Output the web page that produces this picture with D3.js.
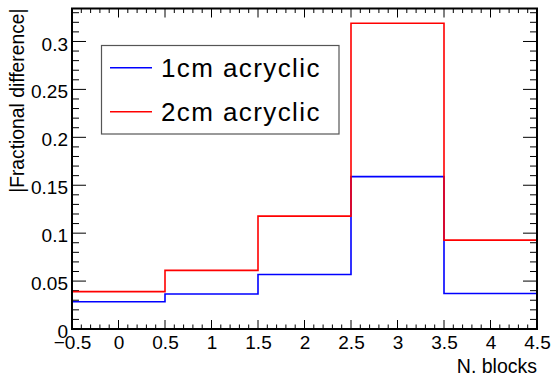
<!DOCTYPE html>
<html><head><meta charset="utf-8">
<script src="https://cdn.jsdelivr.net/npm/d3@7"></script>
<style>body{margin:0;background:#fff}svg{display:block;font-family:"Liberation Sans",Arial,sans-serif}</style>
</head><body><svg id="c" width="553" height="376"></svg>
<script>
const binEdges = [-0.5, 0.5, 1.5, 2.5, 3.5, 4.5];
const series1cm = [0.0285, 0.0365, 0.0568, 0.1590, 0.0370];
const series2cm = [0.0390, 0.0612, 0.1178, 0.3190, 0.0927];
const seriesNames = ["1cm acryclic", "2cm acryclic"];
const seriesColors = ["#0000ff", "#ff0000"];
const xTickLabels = [-0.5, 0, 0.5, 1, 1.5, 2, 2.5, 3, 3.5, 4, 4.5];
const yTickLabels = [0, 0.05, 0.1, 0.15, 0.2, 0.25, 0.3];
const xTitle = "N. blocks";
const yTitle = "|Fractional difference|";

const FONT = "Liberation Sans, Arial, sans-serif";
const svg = d3.select("#c");
const L = 72, R = 537, T = 8.5, B = 329;
const x = d3.scaleLinear().domain([-0.5, 4.5]).range([L, R]);
const y = d3.scaleLinear().domain([0, 0.3344]).range([B, T]);
const fmt = v => (v < 0 ? "\u2212" : "") + String(Math.abs(v));

// minor/major ticks
const g = svg.append("g").attr("stroke", "#000").attr("stroke-width", 1);
const xMinor = d3.range(-0.5, 4.5001, 0.1);
xMinor.forEach(v => {
  const major = Math.abs(v * 2 - Math.round(v * 2)) < 1e-6;
  const len = major ? 9 : 4.5;
  g.append("line").attr("x1", x(v)).attr("x2", x(v)).attr("y1", B).attr("y2", B - len);
  g.append("line").attr("x1", x(v)).attr("x2", x(v)).attr("y1", T).attr("y2", T + len);
});
const yMinor = d3.range(0, 0.3341, 0.01);
yMinor.forEach((v, i) => {
  const major = i % 5 === 0;
  const len = major ? 14 : 7;
  g.append("line").attr("y1", y(v)).attr("y2", y(v)).attr("x1", L).attr("x2", L + len);
  g.append("line").attr("y1", y(v)).attr("y2", y(v)).attr("x1", R).attr("x2", R - len);
});

// axes labels via d3 axes
const xAxis = d3.axisBottom(x).tickValues(xTickLabels).tickFormat(fmt).tickSize(0).tickPadding(7);
svg.append("g").attr("transform", `translate(0,${B})`).call(xAxis)
  .call(s => s.select(".domain").remove())
  .selectAll("text").attr("font-size", 19).attr("fill", "#000").attr("font-family", FONT);
const yAxis = d3.axisLeft(y).tickValues(yTickLabels).tickFormat(fmt).tickSize(0).tickPadding(4);
svg.append("g").attr("transform", `translate(${L},0)`).call(yAxis)
  .call(s => s.select(".domain").remove())
  .selectAll("text").attr("font-size", 19).attr("fill", "#000").attr("dy", "0.45em").attr("font-family", FONT);

// histograms
const stepLine = vals => {
  const pts = [];
  vals.forEach((v, i) => { pts.push([x(binEdges[i]), y(v)]); pts.push([x(binEdges[i + 1]), y(v)]); });
  return d3.line()(pts);
};
[series1cm, series2cm].forEach((vals, k) => {
  svg.append("path").attr("d", stepLine(vals)).attr("fill", "none")
    .attr("stroke", seriesColors[k]).attr("stroke-width", 1.6);
});

// frame
svg.append("rect").attr("x", L).attr("y", T).attr("width", R - L).attr("height", B - T)
  .attr("fill", "none").attr("stroke", "#000").attr("stroke-width", 2);

// titles
svg.append("text").attr("x", R).attr("y", 373).attr("text-anchor", "end")
  .attr("font-size", 19.5).attr("font-family", FONT).text(xTitle);
svg.append("text").attr("transform", `translate(24,${T}) rotate(-90)`).attr("text-anchor", "end")
  .attr("font-size", 19.3).attr("font-family", FONT).text(yTitle);

// legend
const lg = svg.append("g");
lg.append("rect").attr("x", 101.5).attr("y", 45.5).attr("width", 237.5).attr("height", 88.5)
  .attr("fill", "#fff").attr("stroke", "#555").attr("stroke-width", 1.2);
[67.7, 111.7].forEach((yy, k) => {
  lg.append("line").attr("x1", 110).attr("x2", 152).attr("y1", yy).attr("y2", yy)
    .attr("stroke", seriesColors[k]).attr("stroke-width", 1.6);
  lg.append("text").attr("x", 161).attr("y", yy + 9).attr("font-size", 26)
    .attr("letter-spacing", 1.4).attr("font-family", FONT).text(seriesNames[k]);
});
</script></body></html>
